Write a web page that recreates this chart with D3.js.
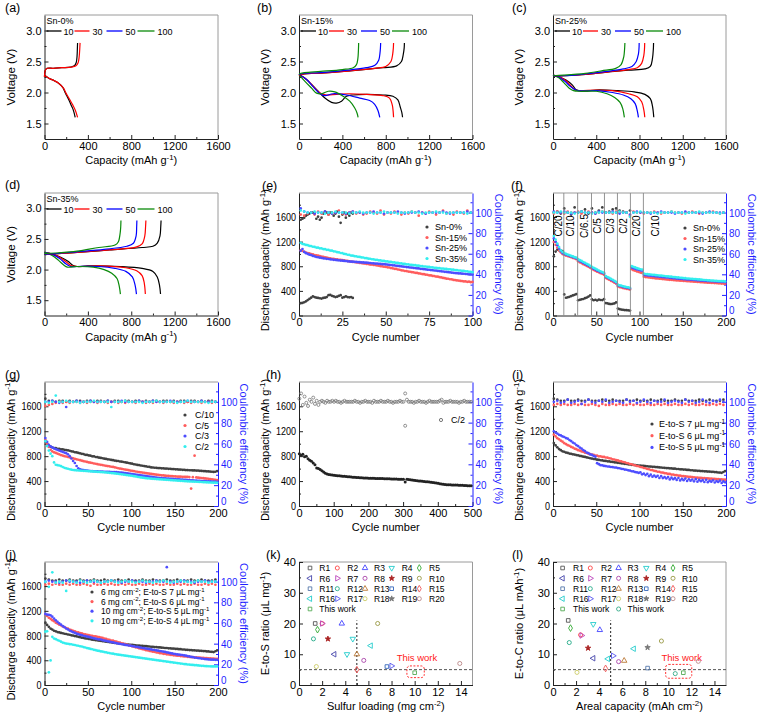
<!DOCTYPE html>
<html><head><meta charset="utf-8">
<script src="https://cdn.jsdelivr.net/npm/d3@7"></script>
<style>body{margin:0;background:#fff}</style></head><body>
<script>
// ===================== DATA =====================
const cycleLabels=['10','30','50','100'];
const cycleColors=['#000000','#ff0000','#0000ff','#0a8a0a'];
// (a) Sn-0%
const aDis=[
 [[0,2.28],[40,2.23],[90,2.19],[130,2.15],[170,2.08],[190,2.00],[205,1.95],[225,1.88],[245,1.80],[265,1.72],[283,1.60]],
 [[0,2.28],[40,2.23],[90,2.19],[130,2.15],[175,2.07],[198,1.99],[215,1.94],[238,1.87],[260,1.80],[285,1.71],[305,1.60]]];
const aChg=[
 [[0,2.25],[8,2.36],[25,2.39],[80,2.39],[160,2.40],[240,2.41],[275,2.43],[292,2.48],[300,2.58],[303,2.70],[305,2.80]],
 [[0,2.25],[8,2.36],[25,2.39],[80,2.39],[160,2.40],[250,2.41],[290,2.43],[310,2.48],[320,2.58],[325,2.70],[328,2.80]]];
// (b) Sn-15%
const bDis=[
 [[0,2.29],[55,2.23],[116,2.13],[177,2.02],[239,1.91],[300,1.84],[346,1.83],[392,1.86],[437,1.94],[499,1.96],[621,1.97],[774,1.96],[866,1.94],[912,1.88],[933,1.77],[948,1.68],[955,1.60]],
 [[0,2.29],[70,2.21],[132,2.10],[193,1.99],[254,1.96],[346,1.97],[468,1.98],[621,1.97],[774,1.95],[835,1.91],[860,1.80],[868,1.70],[872,1.60]],
 [[0,2.29],[70,2.21],[132,2.09],[193,1.98],[239,1.95],[315,1.98],[437,1.96],[560,1.91],[652,1.87],[698,1.81],[728,1.71],[745,1.60]],
 [[0,2.29],[55,2.18],[116,2.07],[162,1.99],[208,1.98],[269,2.02],[330,2.01],[407,1.94],[468,1.86],[514,1.75],[535,1.67],[545,1.60]]];
const bChg=[
 [[0,2.28],[50,2.30],[170,2.31],[470,2.35],[775,2.40],[900,2.43],[945,2.50],[962,2.62],[970,2.72],[972,2.80]],
 [[0,2.28],[50,2.30],[170,2.31],[470,2.35],[700,2.39],[800,2.42],[848,2.50],[864,2.62],[870,2.72],[872,2.80]],
 [[0,2.29],[50,2.31],[200,2.32],[450,2.36],[620,2.40],[700,2.44],[735,2.52],[747,2.64],[751,2.72],[753,2.80]],
 [[0,2.30],[50,2.32],[200,2.34],[400,2.37],[500,2.40],[530,2.45],[543,2.55],[548,2.68],[550,2.80]]];
// (c) Sn-25%
const cDis=[
 [[0,2.28],[60,2.25],[120,2.20],[180,2.12],[210,2.05],[240,2.03],[300,2.02],[400,2.04],[600,2.03],[750,2.01],[850,1.97],[900,1.90],[920,1.78],[932,1.60]],
 [[0,2.28],[60,2.25],[120,2.19],[170,2.10],[200,2.05],[230,2.03],[400,2.04],[550,2.03],[700,1.98],[780,1.93],[820,1.85],[840,1.72],[849,1.60]],
 [[0,2.28],[60,2.24],[110,2.18],[160,2.10],[200,2.05],[230,2.03],[400,2.03],[550,2.00],[650,1.96],[720,1.90],[760,1.82],[780,1.70],[790,1.60]],
 [[0,2.28],[50,2.24],[100,2.16],[150,2.07],[190,2.03],[250,2.02],[400,2.02],[500,1.98],[570,1.92],[620,1.84],[645,1.74],[660,1.60]]];
const cChg=[
 [[0,2.27],[100,2.27],[300,2.29],[500,2.33],[700,2.36],[850,2.38],[900,2.42],[920,2.55],[928,2.70],[930,2.80]],
 [[0,2.27],[100,2.27],[300,2.29],[500,2.33],[700,2.37],[780,2.40],[820,2.47],[840,2.60],[846,2.70],[848,2.80]],
 [[0,2.27],[100,2.27],[300,2.30],[500,2.34],[650,2.38],[730,2.42],[770,2.50],[790,2.62],[795,2.70],[797,2.80]],
 [[0,2.27],[100,2.28],[300,2.31],[450,2.35],[580,2.39],[630,2.45],[655,2.58],[662,2.70],[665,2.80]]];
// (d) Sn-35%
const dDis=[
 [[0,2.28],[80,2.25],[150,2.20],[220,2.13],[260,2.07],[300,2.05],[400,2.06],[700,2.05],[900,2.02],[1000,1.97],[1040,1.88],[1060,1.75],[1070,1.60]],
 [[0,2.28],[80,2.25],[150,2.19],[210,2.11],[250,2.06],[300,2.05],[500,2.06],[750,2.03],[850,1.98],[900,1.90],[920,1.78],[930,1.60]],
 [[0,2.28],[80,2.24],[140,2.18],[200,2.09],[240,2.05],[300,2.05],[500,2.05],[650,2.02],[750,1.97],[810,1.88],[835,1.75],[848,1.60]],
 [[0,2.28],[70,2.23],[130,2.15],[180,2.07],[210,2.04],[300,2.05],[450,2.04],[550,2.00],[620,1.94],[670,1.85],[690,1.72],[700,1.60]]];
const dChg=[
 [[0,2.25],[100,2.26],[300,2.28],[600,2.32],[900,2.36],[1000,2.38],[1040,2.43],[1065,2.55],[1072,2.70],[1075,2.80]],
 [[0,2.25],[100,2.26],[300,2.28],[600,2.32],[850,2.37],[900,2.42],[925,2.55],[932,2.70],[935,2.80]],
 [[0,2.25],[100,2.26],[300,2.29],[550,2.33],[760,2.38],[820,2.43],[845,2.55],[850,2.70],[852,2.80]],
 [[0,2.26],[100,2.27],[300,2.30],[500,2.36],[650,2.40],[680,2.45],[698,2.60],[703,2.70],[705,2.80]]];

// (e) cycling at C/10, cycles 1..100
const snLabels=['Sn-0%','Sn-15%','Sn-25%','Sn-35%'];
const eSn0Cap=[200,205,215,230,250,270,290,310,300,290,285,280,275,285,290,300,330,335,320,310,300,305,320,330,290,300,310,300,295,300,285];
const eSn15Cap=[1060,1048,1036,1022,1015,1008,998,992,983,976,972,963,958,952,944,941,933,930,922,921,913,911,906,904,898,896,889,886,878,877,870,869,862,861,853,852,845,844,837,836,828,827,820,819,812,808,801,799,792,790,783,780,770,767,758,756,747,743,734,731,723,721,713,711,703,701,693,691,683,681,673,671,663,661,653,651,643,641,633,631,622,619,610,607,598,597,589,587,578,576,569,568,561,560,553,553,547,549,542,545];
const eSn25Cap=[1050,1080,1032,1013,1002,988,982,968,962,950,946,939,936,929,926,920,918,912,910,904,903,898,897,892,891,886,885,880,879,874,874,870,870,866,866,862,862,858,858,854,853,849,848,844,843,839,838,834,833,829,827,822,820,815,813,808,806,801,799,794,792,787,785,780,778,773,771,766,764,759,757,752,750,745,743,738,736,731,729,724,722,717,715,710,708,703,701,696,694,689,688,684,683,679,678,674,673,669,668,665];
const eSn35Cap=[1180,1163,1157,1146,1142,1131,1128,1117,1114,1103,1101,1091,1089,1079,1077,1067,1065,1055,1053,1043,1040,1029,1026,1015,1012,1001,998,987,984,973,972,963,962,953,952,943,942,933,932,923,922,914,913,905,904,896,895,887,886,878,878,870,870,862,862,854,854,846,846,838,838,831,831,824,824,817,817,810,810,803,803,796,796,789,789,782,782,775,775,768,769,762,763,756,757,750,751,744,745,738,738,731,731,724,724,717,717,710,710,703];
const eSn0CE=[93,94,95,97,98,99,100,100,99,94,96,93,95,99,101,100,98,100,100,97,99,101,96,90,98,100,95,99,97,100,99];
const eSn15CE=[98,97,99,100,98,101,99,100,98,99,100,102,99,98,100,101,99,100,98,99,101,100,99,102,98,100,99,101,100,98,100,99,101,100,97,100,99,101,100,98,100,102,99,100,98,101,100,99,102,100];
const eSn25CE=[104,101,100,100,99,100,100,101,100,99,100,100,100,99,100,101,100,100,99,100,100,101,100,100,99,100,100,100,101,100,99,100,100,100,101,100,99,100,100,100,100,101,100,99,100,100,100,100,101,100];
const eSn35CE=[102,101,100,100,101,100,100,99,100,100,101,100,100,100,99,100,100,101,100,100,100,99,100,100,101,100,100,100,99,100,100,100,101,100,100,99,100,100,100,101,100,100,99,100,100,100,100,100,99,100];

// (f) rate test, every 2nd cycle
const fRateLines=[12.5,28.5,44.5,59.5,74.5,89.5,104.5];
const fRateLabels=['C/20','C/10','C/6.5','C/5','C/3','C/2','C/20','C/10'];
const fRateLabelAt=[6.5,20.5,36.5,52,67,82,97,118];
const fSn0Cap=[962,1038,1068,1062,1054,1048, 342,288,296,304,316,326,336,348, 248,254,262,268,282,292,308,326, 262,248,256,244,258,252,250,266, 202,196,188,186,190,196,212, 112,102,96,92,88,86,84,80];
const fSn15Cap=[1192,1148,1102,1058,1026,998, 986,974,966,954,946,934,926,914, 881,864,851,834,821,804,791,774, 756,739,726,711,701,687,677,664, 611,594,581,564,551,534,516, 471,461,455,445,441,433,429,421, 751,737,727,715,707,697,691,
 631,625,623,617,615,609,608,603,602,597,596,591,590,585,584,579,579,575,574,570,570,566,566,562,562,558,558,554,554,550,550,546,546,542,542,538,538,534,534,530,530,526,526,522,522,519,519,516];
const fSn25Cap=[1252,1198,1142,1088,1046,1014, 1001,989,981,969,961,949,941,929, 901,884,871,854,841,824,811,794, 776,759,746,729,719,704,696,684, 631,614,601,584,571,554,536, 491,481,475,465,459,451,447,439, 781,769,761,749,743,734,729,
 661,655,653,648,647,642,641,636,635,630,629,624,623,618,617,612,611,606,605,600,599,595,595,590,590,586,585,581,581,577,576,572,572,568,568,564,564,560,560,556,556,552,552,548,549,545,546,543];
const fSn35Cap=[1290,1232,1168,1112,1058,1032, 1016,1002,989,981,968,961,948,941, 916,899,886,869,856,839,826,806, 791,774,761,744,731,717,706,694, 641,624,611,594,581,564,546, 501,491,485,475,469,461,457,449, 801,789,781,769,761,751,746,
 681,674,672,667,666,661,660,655,654,649,648,643,642,637,636,631,630,625,624,619,618,613,612,607,606,601,601,597,596,592,591,587,586,582,581,577,577,572,572,568,568,564,564,560,560,557,557,554];
const fSn0CE=[100,101,99,104,100,98,105,100,101,103,99,104,100,102,105,100,101,103,104,102,101,100,102];
const fSn15CE=[99,101,100,99,101,100,100,101,99,100,101,100,99,100,101,100,100,99,101,100,100,100,97,101,100,100,99,100,100,101,100,99,100,100,101,100,100,99,100,100,101,100,99,100,100,100,101,100,99,100];
const fSn25CE=[101,100,100,101,100,99,100,100,101,100,100,100,99,101,100,100,100,101,100,99,100,100,98,100,101,100,100,100,99,100,100,101,100,100,100,99,100,100,101,100,100,100,100,99,100,101,100,100,100,100];
const fSn35CE=[100,100,101,100,100,100,99,100,101,100,100,99,100,100,101,100,100,100,100,101,100,100,96,100,100,101,100,100,100,100,99,100,100,100,101,100,100,100,99,100,100,100,101,100,100,100,100,100,99,100];

// (g) Sn-35% at different rates, every 2nd cycle
const gLabels=['C/10','C/5','C/3','C/2'];
const gC10Cap=[1040,1002,968,952,941,930,928,918,916,909,908,901,898,894,887,878,874,863,860,851,846,838,833,822,820,812,808,798,797,786,784,775,771,766,759,756,749,746,739,736,729,724,722,714,712,706,701,695,690,683,679,670,666,659,657,650,646,640,636,630,627,619,618,614,613,609,609,605,604,600,600,596,596,592,592,588,588,584,584,580,580,577,577,574,574,571,571,568,568,565,563,560,559,556,555,552,550,547,550,560];
const gC5Cap=[1062,1000,948,902,876,862,851,840,830,818,810,800,794,786,778,771,764,757,749,742,735,727,720,714,708,700,695,690,682,678,671,666,660,656,650,645,641,636,630,627,620,614,606,600,596,590,585,580,575,569,564,560,554,550,545,541,536,532,527,523,519,515,511,507,503,500,496,493,490,487,484,482,480,478,476,474,472,471,470,469,468,467,466,465,280,462,808,458,455,452,449,446,443,440,436,432,428,424,420,416];
const gC3Cap=[1090,1030,982,956,940,926,912,900,890,879,868,858,848,830,800,762,722,690,642,606,590,582,576,572,568,565,562,560,558,556,555,553,552,551,550,549,548,547,546,545,544,543,541,538,535,531,527,524,520,516,512,508,503,499,495,491,487,483,479,475,471,467,463,459,455,452,449,447,445,443,441,439,437,435,433,431,429,427,425,423,421,419,417,415,413,411,409,407,405,403,401,400,398,397,396,394,393,392,391,389];
const gC2Cap=[1040,962,890,840,800,700,662,655,650,641,626,612,605,598,590,583,578,575,572,570,568,566,565,563,561,559,557,555,553,551,549,547,545,543,541,538,535,532,529,526,522,519,516,512,508,504,500,496,492,488,484,479,474,469,464,459,455,451,447,444,441,438,436,434,432,430,428,426,424,422,420,418,416,414,412,410,408,406,404,402,400,398,396,395,393,392,390,389,388,386,385,383,382,380,379,377,376,375,374,372];
const gC10CE=[103,101,101,100,101,101,100,101,100,101,101,100,101,101,100,101,101,100,101,100,101,101,100,101,101,100,101,101,100,101,100,101,101,100,101,101,100,101,100,101,101,100,101,101,100,101,100,101,101,100];
const gC5CE=[96,97,98,99,100,99,100,99,100,100,99,100,99,100,100,99,100,100,99,100,100,99,100,99,100,100,99,100,100,99,100,99,100,100,99,100,100,99,100,100,99,100,99,100,100,99,100,100,99,100];
const gC3CE=[100,100,101,100,99,100,95,100,100,101,100,100,100,101,100,100,100,100,101,100,100,100,101,100,100,100,100,101,100,100,100,101,100,100,100,100,101,100,100,100,100,101,100,100,100,101,100,100,100,100];
const gC2CE=[100,99,100,106,100,100,101,100,100,100,99,100,100,100,101,100,100,100,100,95,100,100,100,101,100,100,100,100,99,100,100,100,101,100,100,100,100,100,99,100,100,101,100,100,100,100,100,99,100,100];

// (h) long cycling at C/2, every 5th cycle
const hCap=[840,815,830,790,800,760,735,720,690,660,610,600, 585,565,545,525,515,505,500,497, 494,490,487,484,480,478,476,473,470,468, 466,463,461,459,457,455,453,451,450,448, 447,446,445,444,443,442,441,440,440,439, 438,437,436,435,434,433,432,431,430,429, 428,385,430,425,420,416,412,408,405,402, 400,397,394,391,388,385,382,378,374,370, 364,358,352,348,345,343,341,340,339,338, 337,336,335,333,332,330,328,326,325,323];
const hCE=[103,108,97,105,99,96,102,100,104,98,101,97, 100,101,100,99,101,100,100,101, 100,101,100,100,99,100,101,100,100,100, 100,100,101,100,100,99,100,100,101,100, 100,100,99,101,100,100,100,101,100,100, 100,101,100,100,99,100,100,100,101,100, 100,108,102,100,100,100,99,100,100,101, 100,100,100,99,100,101,100,100,100,100, 100,101,102,99,100,100,100,101,100,100, 100,100,99,100,100,101,100,100,100,100];
const hCEOutCycle=[306];
const hCEOutValue=[77];

// (i)/(j) electrolyte amount, every 2nd cycle
const eLabels=['E-to-S 7 \u03bcL mg^{-1}','E-to-S 6 \u03bcL mg^{-1}','E-to-S 5 \u03bcL mg^{-1}'];
const jLabels=['6 mg cm^{-2}; E-to-S 7 \u03bcL mg^{-1}','6 mg cm^{-2}; E-to-S 6 \u03bcL mg^{-1}','10 mg cm^{-2}; E-to-S 5 \u03bcL mg^{-1}','10 mg cm^{-2}; E-to-S 4 \u03bcL mg^{-1}'];
const es7Cap=[1010,972,942,913,896,878,869,857,851,842,837,829,825,817,813,804,800,791,787,779,774,766,761,754,751,744,741,734,731,725,723,717,715,709,707,701,699,693,691,685,683,677,675,669,667,661,660,655,654,649,648,644,643,639,638,634,633,629,628,624,623,619,618,614,613,609,608,604,603,599,599,594,594,589,589,584,584,579,579,574,574,569,569,565,565,561,561,557,557,553,553,549,549,544,543,538,537,532,546,561];
const es6Cap=[1145,1117,1088,1070,1048,1032,1008,994,976,966,948,938,920,912,896,890,876,870,856,851,838,834,823,820,810,808,798,797,788,787,778,776,766,762,750,746,735,732,720,717,706,702,690,686,674,670,658,654,642,638,626,622,610,606,594,590,578,575,564,561,550,548,538,536,526,524,515,514,505,504,496,494,488,486,480,479,474,473,468,467,462,461,456,455,451,450,447,446,443,442,439,438,435,434,431,430,427,426,423,422];
const es5Cap=[1200,1178,1162,1143,1132,1116,1107,1090,1080,1058,1042,1018,1003,978,962,938,922,898,882,858,848,828,820,803,792,688,672,655,652,643,641,634,633,626,625,618,617,608,606,596,594,584,582,572,569,558,555,544,541,530,540,508,519,497,514,478,503,471,489,466,484,449,478,448,463,441,462,427,455,431,447,418,449,411,436,414,440,401,429,407,425,396,431,391,418,399,414,385,420,382,405,391,412,377,400,386,407,371,395,380];
const j10s5Cap=[1150,1140,1135,1128,1105,1075,1046,1021,997,976,954,936,914,899,881,869,854,844,831,823,812,806,797,792,783,778,769,764,755,750,742,738,736,725,718,714,706,702,694,690,682,678,670,666,659,656,649,646,639,636,629,626,619,616,609,606,599,596,589,586,579,576,569,566,559,556,549,546,539,535,527,523,515,511,504,501,495,493,487,485,479,475,467,463,455,451,444,441,435,433,427,425,419,418,413,412,409,409,407,407];
const j10s4Cap=[862,870,205,398,780,752,741,727,716,701,686,679,671,667,661,659,651,647,639,635,627,623,613,607,597,592,583,578,569,564,556,552,544,540,532,528,520,517,510,507,500,497,490,488,482,480,474,472,466,464,458,456,450,448,442,440,434,432,426,424,418,416,410,408,402,400,394,392,386,384,378,376,370,368,362,360,354,352,346,344,338,337,332,331,326,325,321,320,316,315,311,310,306,305,303,302,300,301,299,300];
const es7CE=[103,102,101,101,102,101,101,102,101,101,102,101,101,101,102,101,101,102,101,101,101,102,101,101,102,101,101,101,102,101,101,102,101,101,101,102,101,101,102,101,101,101,102,101,101,102,101,101,101,102];
const es6CE=[97,98,97,98,97,97,98,97,98,97,97,98,97,96,98,97,97,98,97,98,97,97,98,97,98,97,97,98,97,97,98,97,98,97,97,98,97,97,98,97,98,97,97,98,97,97,98,97,98,97];
const es5CE=[100,101,99,100,102,99,100,101,98,100,102,100,99,101,100,102,99,100,101,100,99,102,100,101,99,100,102,100,99,101,100,100,102,99,100,101,100,99,102,100,101,99,100,102,100,99,101,100,102,100];
const j10s5CE=[100,101,100,100,99,100,101,100,100,100,99,100,101,100,100,100,99,100,100,101,100,100,99,100,100,101,100,100,100,99,100,100,101,100,100,114,100,99,100,100,101,100,100,99,100,100,101,100,100,100];
const j10s4CE=[100,95,109,99,100,99,91,101,100,99,101,100,99,100,101,100,99,100,100,101,100,99,100,101,100,100,99,100,101,100,100,99,100,100,101,100,99,100,100,101,100,100,99,100,101,100,100,99,100,100];

// (k)/(l) literature comparison
const refNames=['R1','R2','R3','R4','R5','R6','R7','R8','R9','R10','R11','R12','R13','R14','R15','R16','R17','R18','R19','R20'];
const refShapes=['square','circle','triUp','triDown','diamond','triLeft','triRight','circle','star','circle','square','circle','triUp','square','diamond','triLeft','triRight','circle','star','circle'];
const refColors=['#555555','#ff4444','#4444ff','#22cccc','#33aa33','#4444aa','#bb44bb','#aa44aa','#aa2222','#999944','#5577aa','#22aa88','#bb7733','#3366bb','#ee5555','#22cccc','#5555ee','#cccc66','#777777','#bb8888'];
const kPts=[['R1',1.4,20],['R2',2.0,20],['R7',2.0,20],['R3',3.7,20],['R10',6.8,20],['R5',1.6,18],['R12',1.25,15],['R9',2.5,15],['R4',4.65,15],['R16',6.2,12.8],['R6',3.05,10],['R4',4.15,10],['R13',5.0,10],['R8',5.6,8],['R14',7.6,6],['R17',8.0,6.2],['R18',1.5,6],['R15',5.0,5],['R20',13.9,7],['TW1',10.0,4]];
const lPts=[['R1',1.32,21],['R5',1.52,18.5],['R12',1.41,13.8],['R2',2.39,16.3],['R7',2.48,16.1],['R9',3.04,12],['R6',3.49,8.7],['R4',3.49,19.8],['R3',4.06,17.9],['R16',4.76,8.5],['R15',4.56,5.4],['R18',2.08,4.1],['R17',5.21,9.5],['R8',5.69,7.6],['R13',6.17,7.9],['R16',7.0,11.8],['R19',8.2,12.2],['R11',8.2,5.5],['R10',9.4,14.3],['R20',12.6,7.7],['TW2',10.6,3.7],['TW1',11.3,4.0]];
const kRect=[9.33,10.83,2.4,6.2];
const lRect=[9.77,12.03,2.2,6.7];

// ===================== DRAWING =====================
const FONT='Arial, "Liberation Sans", Helvetica, sans-serif';
const svg=d3.select('body').append('svg').attr('width',760).attr('height',715).attr('font-family',FONT);
svg.append('rect').attr('width',760).attr('height',715).attr('fill','#fff');
const COLS=[[44.5,218],[299,472.5],[553,726]];
const ROWS=[[15,139],[193,315.5],[382,506],[562,685]];
const BLUE='#1f1fff';
const intFmt=d3.format('d');
function B(ci,ri){return {x0:COLS[ci][0],x1:COLS[ci][1],y0:ROWS[ri][0],y1:ROWS[ri][1]};}

function rich(t,str,fs){
  const parts=str.split(/(\^\{[^}]*\})/).filter(p=>p.length);
  let up=false;
  parts.forEach(p=>{
    if(p.startsWith('^{')){
      t.append('tspan').attr('dy',(-0.38*fs).toFixed(2)).attr('font-size',(fs*0.72).toFixed(2)).text(p.slice(2,-1));
      up=true;
    } else {
      const s=t.append('tspan').text(p);
      if(up){s.attr('dy',(0.38*fs).toFixed(2));up=false;}
    }
  });
  return t;
}
function txt(g,x,y,str,fs,o={}){
  const t=g.append('text').attr('font-size',fs).attr('fill',o.fill||'#000').attr('text-anchor',o.anchor||'start');
  if(o.rot!=null) t.attr('transform',`translate(${x},${y}) rotate(${o.rot})`); else t.attr('x',x).attr('y',y);
  return rich(t,str,fs);
}
function mkAxis(g,gen,tr,ticks,minor,fmt,color,lcol,compress){
  const a=g.append('g').attr('transform',tr)
    .call(gen.tickValues(ticks).tickFormat(fmt||intFmt).tickSizeInner(-4).tickSizeOuter(0).tickPadding(3));
  a.attr('font-family',null).attr('font-size',null);
  a.select('.domain').attr('stroke',color);
  a.selectAll('.tick line').attr('stroke',color);
  a.selectAll('.tick text').attr('fill',lcol).attr('font-size',11);
  if(compress) a.selectAll('.tick text').each(function(){const w=this.getComputedTextLength();d3.select(this).attr('textLength',w*compress).attr('lengthAdjust','spacingAndGlyphs');});
  if(minor){
    const m=g.append('g').attr('transform',tr).call(gen.tickValues(minor).tickFormat('').tickSizeInner(-2).tickSizeOuter(0));
    m.select('.domain').remove(); m.selectAll('.tick line').attr('stroke',color); m.attr('font-family',null);
  }
  return a;
}
function base(b,xs,ys,xt,xm,yt,ym,yfmt,compress,y2){
  const g=svg.append('g');
  g.append('line').attr('x1',b.x0).attr('x2',b.x1).attr('y1',b.y0).attr('y2',b.y0).attr('stroke','#9a9a9a');
  if(!y2) g.append('line').attr('x1',b.x1).attr('x2',b.x1).attr('y1',b.y0).attr('y2',b.y1).attr('stroke','#9a9a9a');
  mkAxis(g,d3.axisBottom(xs),`translate(0,${b.y1})`,xt,xm,null,'#222','#000');
  mkAxis(g,d3.axisLeft(ys),`translate(${b.x0},0)`,yt,ym,yfmt,'#222','#000',compress);
  if(y2){
    const a=mkAxis(g,d3.axisRight(y2),`translate(${b.x1},0)`,[0,20,40,60,80,100],[10,30,50,70,90,110],null,BLUE,BLUE,0.9);
    a.selectAll('.tick text').filter(d=>d===0).attr('dy','-0.15em');
  }
  return g;
}
function panelLabel(x,y,s){svg.append('text').attr('x',x).attr('y',y).attr('font-size',12.5).text(s);}

// ---- voltage profiles ----
function voltPanel(ci,ri,lab,labX,labY,sn,dis,chg){
  const b=B(ci,ri);
  const xs=d3.scaleLinear().domain([0,1600]).range([b.x0,b.x1]);
  const ys=d3.scaleLinear().domain([1.25,3.25]).range([b.y1,b.y0]);
  const g=base(b,xs,ys,[0,400,800,1200,1600],[200,600,1000,1400],[1.5,2.0,2.5,3.0],[1.75,2.25,2.75],d3.format('.1f'),0);
  const line=d3.line().x(d=>xs(d[0])).y(d=>ys(d[1])).curve(d3.curveCatmullRom.alpha(0.5));
  dis.forEach((c,i)=>g.append('path').attr('d',line(c)).attr('fill','none').attr('stroke',cycleColors[i]).attr('stroke-width',1.2));
  chg.forEach((c,i)=>g.append('path').attr('d',line(c)).attr('fill','none').attr('stroke',cycleColors[i]).attr('stroke-width',1.2));
  txt(g,b.x0+2,b.y0+9,sn,9);
  const segs=[[2,17],[30,45],[62,78],[93,110]], tx=[19,48,81,113];
  cycleLabels.forEach((l,i)=>{
    g.append('line').attr('x1',b.x0+segs[i][0]).attr('x2',b.x0+segs[i][1]).attr('y1',b.y0+16).attr('y2',b.y0+16).attr('stroke',cycleColors[i]).attr('stroke-width',1.3);
    txt(g,b.x0+tx[i],b.y0+19.5,l,9);
  });
  txt(g,(b.x0+b.x1)/2,b.y1+25,'Capacity (mAh g^{-1})',11,{anchor:'middle'});
  txt(g,b.x0-30,(b.y0+b.y1)/2,'Voltage (V)',11.5,{anchor:'middle',rot:-90});
  panelLabel(labX,labY,lab);
}
voltPanel(0,0,'(a)',5,12,'Sn-0%',aDis,aChg);
voltPanel(1,0,'(b)',257,12,'Sn-15%',bDis,bChg);
voltPanel(2,0,'(c)',512,12,'Sn-25%',cDis,cChg);
voltPanel(0,1,'(d)',5,189,'Sn-35%',dDis,dChg);

// ---- cycling panels ----
const serCol=['#404040','#ff5c5c','#4d4dff','#33eeee'];
function dots(g,xs,ys,arr,start,step,color,r,open){
  g.append('g').selectAll('circle').data(arr).join('circle')
    .attr('cx',(d,i)=>xs(start+i*step)).attr('cy',d=>ys(d)).attr('r',r)
    .attr('fill',open?'none':color).attr('stroke',open?color:'none').attr('stroke-width',0.8);
}
function cyclePanel(ci,ri,lab,labX,labY,xMax,xt,xm,series,leg){
  const b=B(ci,ri);
  const xs=d3.scaleLinear().domain([0,xMax]).range([b.x0,b.x1]);
  const ys=d3.scaleLinear().domain([0,1990]).range([b.y1,b.y0]);
  const y2=d3.scaleLinear().domain([0,119]).range([b.y1,b.y0]);
  const g=base(b,xs,ys,xt,xm,[0,400,800,1200,1600],[200,600,1000,1400,1800],null,0.82,y2);
  series.forEach(s=>{
    dots(g,xs,ys,s.cap,s.cs||1,s.step,s.color,s.r||1.35,s.openCap);
    dots(g,xs,y2,s.ce,s.cs||1,s.ceStep,s.ceColor||s.color,s.r||1.35,s.openCE);
  });
  const lfs=leg.fs||9;
  leg.labels.forEach((l,i)=>{
    g.append('circle').attr('cx',leg.x).attr('cy',leg.y+i*leg.dy-3).attr('r',1.6)
      .attr('fill',leg.open?'none':leg.colors[i]).attr('stroke',leg.open?leg.colors[i]:'none');
    txt(g,leg.x+leg.tx,leg.y+i*leg.dy,l,lfs);
  });
  txt(g,(b.x0+b.x1)/2,b.y1+25,'Cycle number',11,{anchor:'middle'});
  txt(g,b.x0-30,(b.y0+b.y1)/2+6,'Discharge capacity (mAh g^{-1})',11,{anchor:'middle',rot:-90});
  txt(g,b.x1+22,(b.y0+b.y1)/2,'Coulombic efficiency (%)',11,{anchor:'middle',rot:90,fill:BLUE});
  panelLabel(labX,labY,lab);
  return {g,xs,ys,y2,b};
}
// (e)
cyclePanel(1,1,'(e)',262,190,100,[0,25,50,75,100],[12.5,37.5,62.5,87.5],[
  {cap:eSn0Cap,step:1,ce:eSn0CE,ceStep:1,color:serCol[0]},
  {cap:eSn15Cap,step:1,ce:eSn15CE,ceStep:2,color:serCol[1]},
  {cap:eSn25Cap,step:1,ce:eSn25CE,ceStep:2,color:serCol[2]},
  {cap:eSn35Cap,step:1,ce:eSn35CE,ceStep:2,color:serCol[3]}],
  {x:427,y:230,dy:10.5,tx:8,labels:snLabels,colors:serCol});
// (f)
const F=cyclePanel(2,1,'(f)',511,190,200,[0,50,100,150,200],[25,75,125,175],[
  {cap:fSn0Cap,step:2,ce:fSn0CE,ceStep:4,color:serCol[0]},
  {cap:fSn15Cap,step:2,ce:fSn15CE,ceStep:4,color:serCol[1]},
  {cap:fSn25Cap,step:2,ce:fSn25CE,ceStep:4,color:serCol[2]},
  {cap:fSn35Cap,step:2,ce:fSn35CE,ceStep:4,color:serCol[3]}],
  {x:685,y:231,dy:10.5,tx:8,labels:snLabels,colors:serCol});
fRateLines.forEach(c=>F.g.append('line').attr('x1',F.xs(c)).attr('x2',F.xs(c)).attr('y1',F.b.y0).attr('y2',F.b.y1).attr('stroke','#888').attr('stroke-width',0.9));
fRateLabels.forEach((l,i)=>txt(F.g,F.xs(fRateLabelAt[i])+3.5,226,l,10,{anchor:'middle',rot:-90}));
// (g)
cyclePanel(0,2,'(g)',5,379,200,[0,50,100,150,200],[25,75,125,175],[
  {cap:gC10Cap,step:2,ce:gC10CE,ceStep:4,color:serCol[0]},
  {cap:gC5Cap,step:2,ce:gC5CE,ceStep:4,color:serCol[1]},
  {cap:gC3Cap,step:2,ce:gC3CE,ceStep:4,color:serCol[2]},
  {cap:gC2Cap,step:2,ce:gC2CE,ceStep:4,color:serCol[3]}],
  {x:185,y:418,dy:10.5,tx:10,labels:gLabels,colors:serCol});
// (h)
const Hh=cyclePanel(1,2,'(h)',266,379,500,[0,100,200,300,400,500],[50,150,250,350,450],[
  {cap:hCap,step:5,ce:hCE,ceStep:5,color:'#222222',ceColor:'#777777',openCE:true,r:1.5}],
  {x:441,y:423,dy:10,tx:10,labels:['C/2'],colors:['#777777'],open:true});
hCEOutCycle.forEach((c,i)=>Hh.g.append('circle').attr('cx',Hh.xs(c)).attr('cy',Hh.y2(hCEOutValue[i])).attr('r',1.5).attr('fill','none').attr('stroke','#777').attr('stroke-width',0.8));
// (i)
cyclePanel(2,2,'(i)',512,379,200,[0,50,100,150,200],[25,75,125,175],[
  {cap:es7Cap,step:2,ce:es7CE,ceStep:4,color:serCol[0]},
  {cap:es6Cap,step:2,ce:es6CE,ceStep:4,color:serCol[1]},
  {cap:es5Cap,step:2,ce:es5CE,ceStep:4,color:serCol[2]}],
  {x:652,y:427,dy:11.7,tx:7,labels:eLabels,colors:serCol});
// (j)
cyclePanel(0,3,'(j)',5,559,200,[0,50,100,150,200],[25,75,125,175],[
  {cap:es7Cap,step:2,ce:es7CE,ceStep:4,color:serCol[0]},
  {cap:es6Cap,step:2,ce:es6CE,ceStep:4,color:serCol[1]},
  {cap:j10s5Cap,step:2,ce:j10s5CE,ceStep:4,color:serCol[2]},
  {cap:j10s4Cap,step:2,ce:j10s4CE,ceStep:4,color:serCol[3]}],
  {x:92,y:595,dy:9.6,tx:9,fs:8.4,labels:jLabels,colors:serCol});

// ---- literature comparison ----
const symTypes={square:d3.symbolSquare,circle:d3.symbolCircle,triUp:d3.symbolTriangle,triDown:d3.symbolTriangle,triLeft:d3.symbolTriangle,triRight:d3.symbolTriangle,diamond:d3.symbolDiamond,star:d3.symbolStar};
const symRot={triDown:180,triLeft:-90,triRight:90};
const twStyle={TW1:['square','#55aa55'],TW2:['circle','#33aa88']};
function styleOf(n){ if(twStyle[n]) return twStyle[n]; const i=refNames.indexOf(n); return [refShapes[i],refColors[i]]; }
function mark(g,x,y,n){
  const [sh,col]=styleOf(n);
  const p=d3.symbol().type(symTypes[sh]).size(sh==='star'?9:13)();
  g.append('path').attr('d',p).attr('transform',`translate(${x},${y}) rotate(${symRot[sh]||0})`)
    .attr('fill',sh==='star'?col:'none').attr('stroke',col).attr('stroke-width',0.9);
}
function refPanel(ci,ri,lab,labX,labY,pts,extra,rect,xTitle,yTitle,twX,mx,tx){
  const b=B(ci,ri);
  const xs=d3.scaleLinear().domain([0,15]).range([b.x0,b.x1]);
  const ys=d3.scaleLinear().domain([0,40]).range([b.y1,b.y0]);
  const g=base(b,xs,ys,[0,2,4,6,8,10,12,14],[1,3,5,7,9,11,13],[0,10,20,30,40],[5,15,25,35],null,0);
  g.append('line').attr('x1',xs(0)).attr('x2',xs(15)).attr('y1',ys(5)).attr('y2',ys(5)).attr('stroke','#555').attr('stroke-dasharray','3,2');
  g.append('line').attr('x1',xs(5)).attr('x2',xs(5)).attr('y1',ys(0)).attr('y2',ys(21)).attr('stroke','#222').attr('stroke-dasharray','2,2');
  g.append('rect').attr('x',xs(rect[0])).attr('y',ys(rect[3])).attr('width',xs(rect[1])-xs(rect[0])).attr('height',ys(rect[2])-ys(rect[3]))
    .attr('rx',3).attr('fill','none').attr('stroke','#ff3030').attr('stroke-dasharray','2,1.5');
  txt(g,xs(twX),ys(7.9),'This work',9.5,{anchor:'middle',fill:'#ff1a1a'});
  pts.forEach(p=>mark(g,xs(p[1]),ys(p[2]),p[0]));
  const rowsY=[6,16.3,26.7,36.7,47];
  refNames.forEach((n,i)=>{
    const r=Math.floor(i/5), c=i%5;
    mark(g,b.x0+mx[c],b.y0+rowsY[r],n);
    txt(g,b.x0+tx[c],b.y0+rowsY[r]+3.2,n,8.5);
  });
  extra.forEach(e=>{ mark(g,b.x0+mx[e[1]],b.y0+rowsY[4],e[0]); txt(g,b.x0+tx[e[1]],b.y0+rowsY[4]+3.2,'This work',8.5); });
  txt(g,(b.x0+b.x1)/2,b.y1+25,xTitle,11,{anchor:'middle'});
  txt(g,b.x0-30,(b.y0+b.y1)/2,yTitle,11,{anchor:'middle',rot:-90});
  panelLabel(labX,labY,lab);
}
refPanel(1,3,'(k)',266,559,kPts,[['TW1',0]],kRect,'Sulfur loading (mg cm^{-2})','E-to-S ratio (\u03bcL mg^{-1})',10.2,[11,38.3,66,92.7,120.3],[20.3,48.3,75,102.7,130]);
refPanel(2,3,'(l)',512,559,lPts,[['TW1',0],['TW2',2]],lRect,'Areal capacity (mAh cm^{-2})','E-to-C ratio (\u03bcL mAh^{-1})',11.16,[9.6,37.3,65.6,93.3,120],[20,48,74.6,102.3,129]);
</script></body></html>
